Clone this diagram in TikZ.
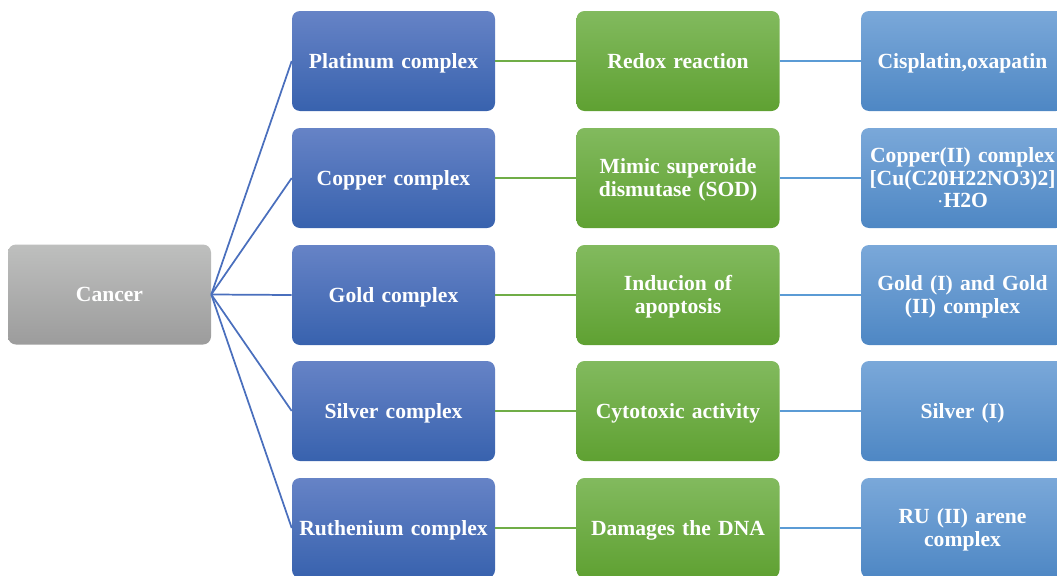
\documentclass[tikz,border=0pt]{standalone}
\usepackage{fontspec}
\setmainfont{Liberation Serif}
\begin{document}
\begin{tikzpicture}[x=0.75pt,y=-0.75pt,
  box/.style={rounded corners=6pt,minimum width=152.25pt,minimum height=75pt,inner sep=0pt},
  txt/.style={text width=150pt,align=center,inner sep=0pt,text=white,
    font=\bfseries\fontsize{16.2}{17}\selectfont,
    execute at begin node=\strut, execute at end node=\strut},
  graybox/.style={box,top color=gray1,bottom color=gray2},
  bluebox/.style={box,top color=blue1,bottom color=blue2},
  greenbox/.style={box,top color=green1,bottom color=green2},
  lbluebox/.style={box,top color=lblue1,bottom color=lblue2},
  bline/.style={draw=lineblue,line width=1.3pt},
  gline/.style={draw=linegreen,line width=1.3pt},
  lline/.style={draw=linelblue,line width=1.3pt}]
\definecolor{gray1}{HTML}{BEBFBE}
\definecolor{gray2}{HTML}{9C9C9C}
\definecolor{blue1}{HTML}{6683C6}
\definecolor{blue2}{HTML}{3862AE}
\definecolor{green1}{HTML}{82BA5E}
\definecolor{green2}{HTML}{5FA132}
\definecolor{lblue1}{HTML}{7AA8D9}
\definecolor{lblue2}{HTML}{4E87C4}
\definecolor{lineblue}{HTML}{4A6FBD}
\definecolor{linegreen}{HTML}{70AD47}
\definecolor{linelblue}{HTML}{5B9BD5}
\useasboundingbox (0,0) rectangle (1057,575);
\clip (0,0) rectangle (1057,575);
\node[graybox] (c) at (109.5,294.5) {};
\node[txt] (ct) at (109.5,297.2) {Cancer};
\foreach \i/\y/\a/\b/\cc in {
  1/61/{Platinum complex}/{Redox reaction}/{Cisplatin,oxapatin},
  2/178/{Copper complex}/{Mimic superoide\\dismutase (SOD)}/{Copper(II) complex\\{}[Cu(C20H22NO3)2]\\$\cdot$H2O},
  3/295/{Gold complex}/{Inducion of\\apoptosis}/{Gold (I) and Gold\\(II) complex},
  4/411/{Silver complex}/{Cytotoxic activity}/{Silver (I)},
  5/528/{Ruthenium complex}/{Damages the DNA}/{RU (II) arene\\complex}}{
  \node[bluebox] (m\i) at (393.5,\y) {};
  \node[greenbox] (g\i) at (678,\y) {};
  \node[lbluebox] (r\i) at (962.5,\y) {};
  \node[txt] (m\i t) at (393.5,{\y+2.7}) {\a};
  \node[txt] (g\i t) at (678,{\y+2.7}) {\b};
  \node[txt] (r\i t) at (962.5,{\y+2.7}) {\cc};
  \draw[bline] (c.east) -- (m\i.west);
  \draw[gline] (m\i.east) -- (g\i.west);
  \draw[lline] (g\i.east) -- (r\i.west);
}
\end{tikzpicture}
\end{document}
